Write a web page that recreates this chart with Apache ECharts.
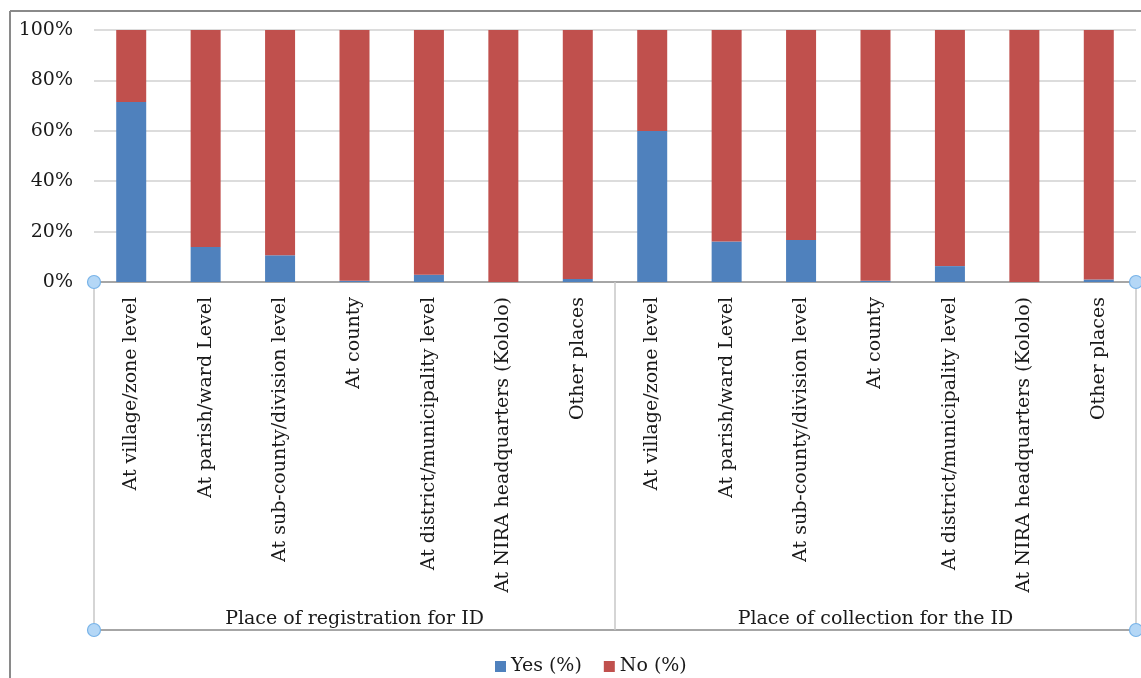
<!DOCTYPE html>
<html>
<head>
<meta charset="utf-8">
<script src="https://cdn.jsdelivr.net/npm/echarts@6/dist/echarts.min.js"></script>
<style>
  html, body { margin: 0; padding: 0; background: #ffffff; }
  #chart { width: 1141px; height: 678px; }
</style>
</head>
<body>
<div id="chart"></div>
<script>
// Places where the ID was registered / collected
const places = [
  'At village/zone level',
  'At parish/ward Level',
  'At sub-county/division level',
  'At county',
  'At district/municipality level',
  'At NIRA headquarters (Kololo)',
  'Other places'
];
const groups = ['Place of registration for ID', 'Place of collection for the ID'];

// Share answering "Yes" (%) in each group
const yesRegistration = [71.4, 13.9, 10.6, 0.5, 2.9, 0, 1.2];
const yesCollection   = [59.9, 16.1, 16.7, 0.5, 6.3, 0, 1.0];

const seriesNames = ['Yes (%)', 'No (%)'];
const yTicks = [0, 20, 40, 60, 80, 100];

// Build the 14 category slots (7 places for each group)
const slots = [];
const yesAll = [];
groups.forEach((g, gi) => {
  const src = gi === 0 ? yesRegistration : yesCollection;
  places.forEach((p, pi) => {
    slots.push(gi + '-' + pi);
    yesAll.push(src[pi]);
  });
});
const noAll = yesAll.map(v => +(100 - v).toFixed(1));

const FONT = 'DejaVu Serif';
const TEXT = '#1a1a1a';
const BOX_OFFSET = 348;

const chart = echarts.init(document.getElementById('chart'), null, { renderer: 'canvas' });

chart.setOption({
  animation: false,
  backgroundColor: '#ffffff',
  color: ['#4f81bd', '#c0504d'],
  grid: { left: 94, right: 5, top: 30, bottom: 396 },
  legend: {
    data: seriesNames,
    left: 490,
    top: 652,
    icon: 'rect',
    itemWidth: 11,
    itemHeight: 11,
    itemGap: 22,
    textStyle: { fontFamily: FONT, fontSize: 19, color: TEXT }
  },
  xAxis: [
    {
      type: 'category',
      data: slots,
      position: 'bottom',
      axisLine: { lineStyle: { color: '#a6a6a6', width: 2 } },
      axisTick: { show: false },
      axisLabel: {
        interval: 0,
        rotate: 90,
        margin: 15,
        fontFamily: FONT,
        fontSize: 19,
        color: TEXT,
        formatter: v => places[+v.split('-')[1]]
      }
    },
    {
      type: 'category',
      data: groups,
      position: 'bottom',
      offset: BOX_OFFSET,
      axisLine: { lineStyle: { color: '#a6a6a6', width: 2 } },
      axisTick: {
        show: true,
        inside: true,
        length: BOX_OFFSET,
        lineStyle: { color: '#c8c8c8', width: 1.5 }
      },
      axisLabel: {
        inside: true,
        margin: 1,
        fontFamily: FONT,
        fontSize: 19,
        color: TEXT
      }
    }
  ],
  yAxis: {
    type: 'value',
    min: yTicks[0],
    max: yTicks[yTicks.length - 1],
    interval: 20,
    axisLine: { show: false },
    axisTick: { show: false },
    splitLine: { lineStyle: { color: '#dcdcdc', width: 2 } },
    axisLabel: {
      margin: 21,
      fontFamily: FONT,
      fontSize: 19,
      color: TEXT,
      formatter: '{value}%'
    }
  },
  series: [
    {
      name: seriesNames[0],
      type: 'bar',
      stack: 'share',
      xAxisIndex: 0,
      barWidth: 30,
      data: yesAll
    },
    {
      name: seriesNames[1],
      type: 'bar',
      stack: 'share',
      xAxisIndex: 0,
      barWidth: 30,
      data: noAll
    }
  ]
});

// Outer frame and corner handles of the plot box, placed from the grid rectangle
const rect = chart.getModel().getComponent('grid').coordinateSystem.getRect();
const x0 = rect.x, x1 = rect.x + rect.width;
const yAxisLine = rect.y + rect.height;
const yBoxBottom = yAxisLine + BOX_OFFSET;
const handle = (cx, cy) => ({
  type: 'circle',
  shape: { cx: cx, cy: cy, r: 6.5 },
  style: { fill: '#b4d7f6', stroke: '#78b3e8', lineWidth: 1.2 },
  z: 100
});
chart.setOption({
  graphic: [
    { type: 'line', shape: { x1: 10, y1: 11, x2: 1141, y2: 11 }, style: { stroke: '#8a8a8a', lineWidth: 2 } },
    { type: 'line', shape: { x1: 10, y1: 11, x2: 10, y2: 678 }, style: { stroke: '#8a8a8a', lineWidth: 2 } },
    handle(x0, yAxisLine),
    handle(x1, yAxisLine),
    handle(x0, yBoxBottom),
    handle(x1, yBoxBottom)
  ]
});
</script>
</body>
</html>
